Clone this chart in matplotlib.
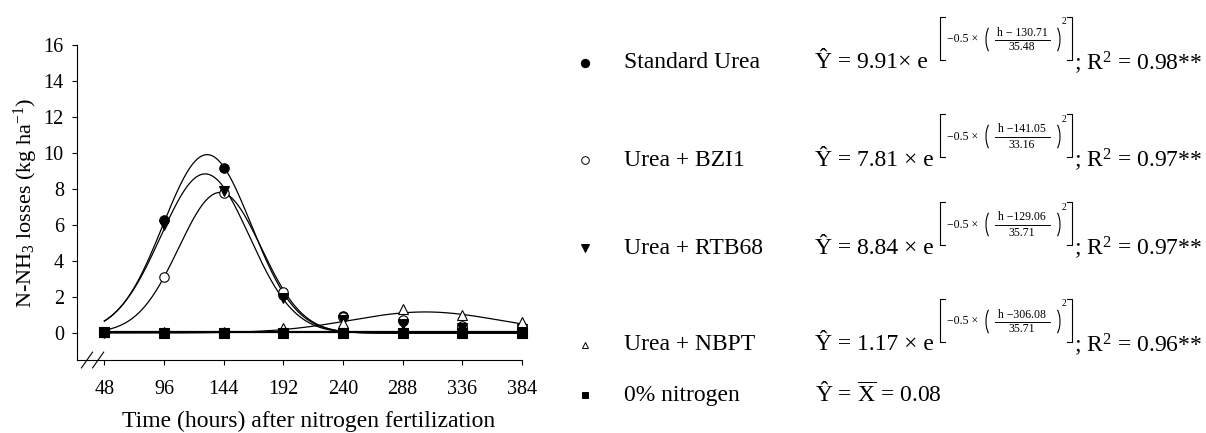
import numpy as np
import matplotlib
matplotlib.use("Agg")
import matplotlib.pyplot as plt
from matplotlib.patches import Arc

plt.rcParams['font.family'] = ['Liberation Serif', 'DejaVu Serif']
plt.rcParams['mathtext.fontset'] = 'custom'
plt.rcParams['mathtext.rm'] = 'Liberation Serif'
plt.rcParams['mathtext.it'] = 'Liberation Serif'
plt.rcParams['mathtext.bf'] = 'Liberation Serif:bold'

hours = [48, 96, 144, 192, 240, 288, 336, 384]
standard_urea = [0.08, 6.3, 9.15, 2.1, 0.95, 0.65, 0.35, 0.3]
urea_bzi1 = [0.05, 3.1, 7.8, 2.3, 0.9, 0.7, 0.4, 0.35]
urea_rtb68 = [0.0, 6.0, 7.9, 1.95, 0.75, 0.5, 0.3, 0.25]
urea_nbpt = [0.05, 0.05, 0.05, 0.3, 0.57, 1.35, 1.0, 0.63]
zero_n = [0.05, 0.02, 0.02, 0.02, 0.02, 0.02, 0.02, 0.02]

# gaussian fits (peak, centre, width) as drawn
fit_peak = [9.91, 7.81, 8.84, 1.17]
fit_centre = [130.71, 141.05, 129.06, 306.08]
fit_width = [35.48, 33.16, 35.71, 60.0]
zero_mean = 0.08

labels = ["Standard Urea", "Urea + BZI1", "Urea + RTB68", "Urea + NBPT", "0% nitrogen"]
eq_coef = ["9.91\u00d7 e", "7.81 \u00d7 e", "8.84 \u00d7 e", "1.17 \u00d7 e"]
eq_num = ["h \u2212 130.71", "h \u2212141.05", "h \u2212129.06", "h \u2212306.08"]
eq_den = ["35.48", "33.16", "35.71", "35.71"]
eq_r2 = ["0.98**", "0.97**", "0.97**", "0.96**"]

series = [standard_urea, urea_bzi1, urea_rtb68, urea_nbpt, zero_n]
mk = ['o', 'o', 'v', '^', 's']
mfc = ['black', 'white', 'black', 'white', 'black']

fig = plt.figure(figsize=(12.06, 4.33), dpi=100)
ax = fig.add_axes([77 / 1206, 73 / 433, 445 / 1206, 315 / 433])

h = np.linspace(48, 384, 400)
for a, c, w in zip(fit_peak, fit_centre, fit_width):
    ax.plot(h, a * np.exp(-0.5 * ((h - c) / w) ** 2), color='black', lw=0.9)
ax.plot([48, 384], [zero_mean, zero_mean], color='black', lw=1.6)

for vals, m, fc in zip(series, mk, mfc):
    ax.plot(hours, vals, linestyle='none', marker=m, ms=6.8, mfc=fc,
            mec='black', mew=0.8, clip_on=False, zorder=3)

ax.set_xlim(26, 384)
ax.set_ylim(-1.5, 16)
ax.set_xticks(hours)
ax.set_yticks(range(0, 17, 2))
for s in ['top', 'right']:
    ax.spines[s].set_visible(False)
for s in ['left', 'bottom']:
    ax.spines[s].set_linewidth(0.8)
ax.tick_params(axis='x', direction='out', length=3.5, width=0.8, pad=11, labelsize=14.5)
ax.tick_params(axis='y', direction='out', length=3.5, width=0.8, pad=6, labelsize=14.5)
ax.set_xlabel("Time (hours) after nitrogen fertilization", fontsize=17)
ax.xaxis.set_label_coords(0.52, -0.16)
ax.set_ylabel("N-NH$_3$ losses (kg ha$^{-1}$)", fontsize=16)
ax.yaxis.set_label_coords(-0.083, 0.5)

# axis break marks
for dx in [0.0, 0.025]:
    ax.plot([0.01 + dx, 0.035 + dx], [-0.025, 0.025], transform=ax.transAxes,
            color='black', lw=0.8, clip_on=False)

# legend and equations drawn in pixel space
lax = fig.add_axes([0, 0, 1, 1])
lax.set_xlim(0, 1206)
lax.set_ylim(433, 0)
lax.axis('off')

rows = [63, 160, 248, 345, 395]
leg_ms = [6, 5.5, 6, 5, 5]
for yc, lab, m, fc, s in zip(rows, labels, mk, mfc, leg_ms):
    lax.plot(585, yc, marker=m, ms=s, mfc=fc, mec='black', mew=0.7)
    lax.text(624, yc, lab, fontsize=17, va='center', ha='left')

for i in range(4):
    yc = rows[i]
    lax.text(815, yc, "\u0176 = " + eq_coef[i], fontsize=17, va='center', ha='left')
    top, bot = yc - 46, yc - 3
    for x0, d in [(940, 5), (1072, -5)]:
        lax.plot([x0 + d, x0, x0, x0 + d], [top, top, bot, bot], color='black', lw=0.8)
    mid = (top + bot) / 2 + 1
    lax.text(947, mid, "\u22120.5 \u00d7", fontsize=8.5, va='center', ha='left')
    lax.add_patch(Arc((994, mid), 16, 32, theta1=115, theta2=245, color='black', lw=0.8))
    lax.add_patch(Arc((1052, mid), 16, 32, theta1=-65, theta2=65, color='black', lw=0.8))
    lax.plot([995, 1050], [mid, mid], color='black', lw=0.7)
    lax.text(1022, mid - 7, eq_num[i], fontsize=8.5, va='center', ha='center')
    lax.text(1022, mid + 8, eq_den[i], fontsize=8.5, va='center', ha='center')
    lax.text(1062, top + 5, "2", fontsize=7, va='center', ha='left')
    lax.text(1074, yc, "; R$^2$ = " + eq_r2[i], fontsize=17, va='center', ha='left')

lax.text(815, rows[4], "\u0176 = $\\overline{\\mathrm{X}}$ = 0.08", fontsize=17,
         va='center', ha='left')

fig.savefig("out.png", dpi=100)
